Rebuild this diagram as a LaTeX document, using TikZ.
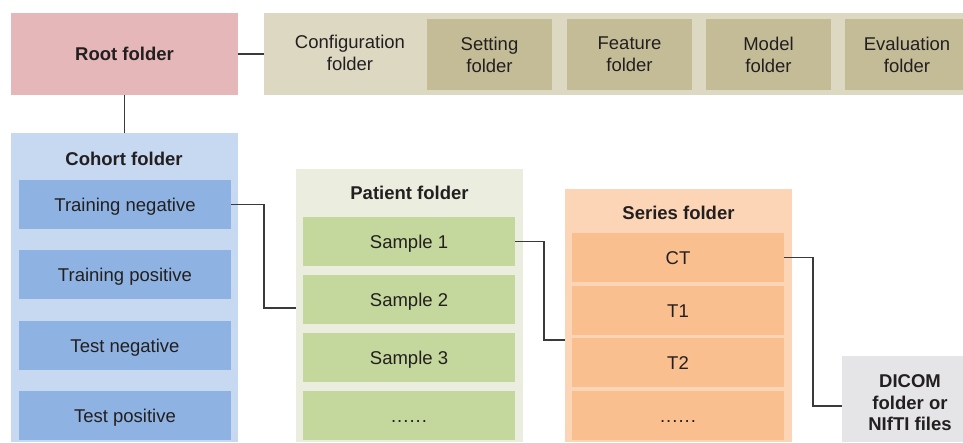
\documentclass[tikz,border=0pt]{standalone}
\usepackage{fontspec}
\setmainfont{Liberation Sans}
\newcommand{\elide}{.\kern1pt.\kern1pt.\kern1pt.\kern1pt.\kern1pt.}
\begin{document}
\begin{tikzpicture}[x=1pt,y=-1pt,
  every node/.style={inner sep=0pt,outer sep=0pt,font=\fontsize{18.5}{22}\selectfont,text=txt,align=center},
  bold/.style={font=\fontsize{18.5}{21.5}\selectfont\bfseries},
  panel/.style={anchor=north west,minimum width=#1},
  item/.style={anchor=north west,minimum height=49pt,minimum width=212pt,text height=13pt,text depth=0pt},
  conn/.style={draw=linec,line width=1.3pt}]
\definecolor{txt}{HTML}{231F20}
\definecolor{linec}{HTML}{3A3A3A}
\definecolor{rootc}{HTML}{E6B7B8}
\definecolor{cfgout}{HTML}{DDD8C2}
\definecolor{cfgin}{HTML}{C4BC97}
\definecolor{cohout}{HTML}{C6D9F0}
\definecolor{cohin}{HTML}{8EB3E2}
\definecolor{patout}{HTML}{EBEEDF}
\definecolor{patin}{HTML}{C4D79C}
\definecolor{serout}{HTML}{FBD5B6}
\definecolor{serin}{HTML}{F9BF8F}
\definecolor{dicomc}{HTML}{E5E5E7}
\useasboundingbox (0,0) rectangle (963,442);

% top row: root and configuration folders
\node[panel=227pt,minimum height=82pt,fill=rootc,bold] (root) at (11,13) {Root folder};
\node[panel=699pt,minimum height=82pt,fill=cfgout] (cfg) at (264,13) {};
\node (cfgtxt) at (350,53) {Configuration\\folder};
\node[panel=125pt,minimum height=71pt,fill=cfgin] (setting) at (427,19) {Setting\\folder};
\node[panel=125pt,minimum height=71pt,fill=cfgin] (feature) at (567,19) {Feature\vphantom{g}\\folder};
\node[panel=125pt,minimum height=71pt,fill=cfgin] (model) at (706,19) {Model\vphantom{g}\\folder};
\node[panel=118pt,minimum height=71pt,fill=cfgin] (evaluation) at (845,19) {\hspace*{6pt}Evaluation\vphantom{g}\\\hspace*{6pt}folder};

% cohort folder
\node[panel=227pt,minimum height=309pt,fill=cohout] (cohort) at (11,133) {};
\node[bold] (cohtitle) at (124,159) {Cohort folder};
\node[item,fill=cohin] (trneg) at (19,180) {Training negative};
\node[item,fill=cohin] (trpos) at (19,250) {Training positive};
\node[item,fill=cohin] (teneg) at (19,321) {Test negative};
\node[item,fill=cohin] (tepos) at (19,391) {Test positive};

% patient folder
\node[panel=227pt,minimum height=273pt,fill=patout] (patient) at (296,169) {};
\node[bold] (pattitle) at (409.5,193) {Patient folder};
\node[item,fill=patin] (s1) at (303,217) {Sample 1};
\node[item,fill=patin] (s2) at (303,275) {Sample 2};
\node[item,fill=patin] (s3) at (303,333) {Sample 3};
\node[item,fill=patin] (s4) at (303,391) {\elide};

% series folder
\node[panel=227pt,minimum height=253pt,fill=serout] (series) at (565,189) {};
\node[bold] (sertitle) at (678.5,213) {Series folder};
\node[item,fill=serin] (ct) at (572,233) {CT};
\node[item,fill=serin] (t1) at (572,286) {T1};
\node[item,fill=serin] (t2) at (572,338) {T2};
\node[item,fill=serin] (t3) at (572,391) {\elide};

% image files
\node[panel=121pt,minimum height=86pt,fill=dicomc] (dicom) at (842,356) {};
\node[bold] (dicomtxt) at (910,403) {DICOM\\folder or\\NIfTI files};

% connectors
\coordinate (pin1) at (296,308);
\coordinate (pin2) at (565,340);
\coordinate (pin3) at (842,406);
\draw[conn] (root.east) -- (cfg.west |- root.east);
\draw[conn] (root.south) -- (cohort.north -| root.south);
\draw[conn] (trneg.east) -- ++(33,0) |- (pin1);
\draw[conn] (s1.east) -- ++(29,0) |- (pin2);
\draw[conn] (ct.east) -- ++(29,0) |- (pin3);
\end{tikzpicture}
\end{document}
